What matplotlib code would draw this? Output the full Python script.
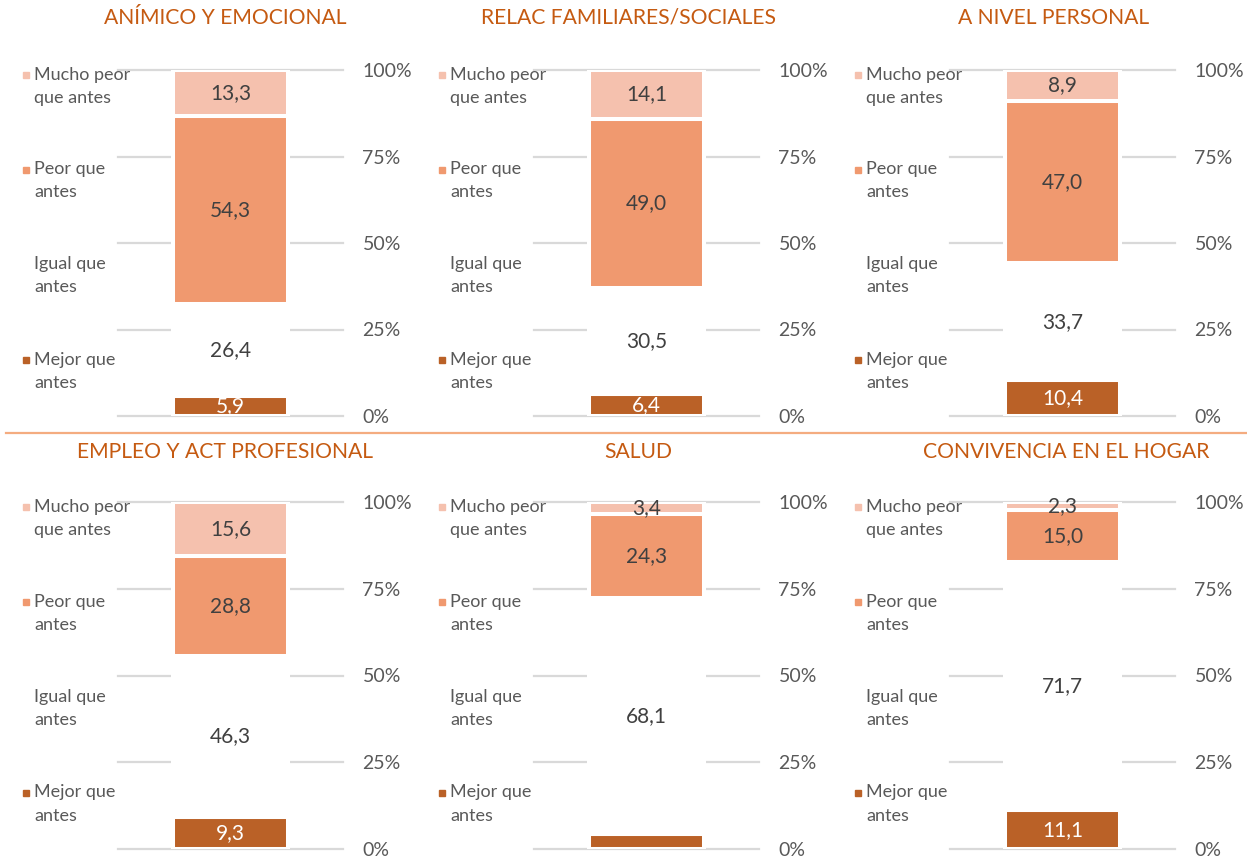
import matplotlib
matplotlib.use('Agg')
import matplotlib.pyplot as plt

#================================
# Datos
titles = ['ANÍMICO Y EMOCIONAL', 'RELAC FAMILIARES/SOCIALES', 'A NIVEL PERSONAL',
          'EMPLEO Y ACT PROFESIONAL', 'SALUD', 'CONVIVENCIA EN EL HOGAR']
categories = ['Mejor que\nantes', 'Igual que\nantes', 'Peor que\nantes', 'Mucho peor\nque antes']
mejor = [5.9, 6.4, 10.4, 9.3, 4.2, 11.1]
igual = [26.4, 30.5, 33.7, 46.3, 68.1, 71.7]
peor = [54.3, 49.0, 47.0, 28.8, 24.3, 15.0]
mucho_peor = [13.3, 14.1, 8.9, 15.6, 3.4, 2.3]
show_mejor_label = [True, True, True, True, False, True]
ticks = [0, 25, 50, 75, 100]
tick_labels = ['0%', '25%', '50%', '75%', '100%']

#================================
# Stijl
colors = ['#BA6127', '#FFFFFF', '#F0996F', '#F5C1AE']
label_colors = ['#FFFFFF', '#404040', '#404040', '#404040']
title_color = '#C55A11'
text_color = '#595959'
plt.rcParams['font.family'] = ['Lato', 'DejaVu Sans']

W, H = 1247, 858
fig = plt.figure(figsize=(W / 100, H / 100), dpi=100)

# pixel posities van de panelen
ax_left0, ax_w, col_step = 118, 225, 416
row_zero = [416, 849]
row_full = [70, 502]
title_y = [18, 452]
title_x = [[225, 628, 1054], [225, 638, 1066]]
legend_y = [101.0, 73.6, 46.2, 18.6]

for i, title in enumerate(titles):
    r, c = divmod(i, 3)
    left = ax_left0 + col_step * c
    bottom = row_zero[r]
    height = row_zero[r] - row_full[r]
    ax = fig.add_axes([left / W, 1 - bottom / H, ax_w / W, height / H])

    series = [mejor[i], igual[i], peor[i], mucho_peor[i]]
    base = 0
    for k, val in enumerate(series):
        ax.bar(0, val, bottom=base, width=0.507, color=colors[k],
               edgecolor='white', linewidth=2.9, zorder=2)
        if k > 0 or show_mejor_label[i]:
            ax.text(0, base + val / 2, f'{val:.1f}'.replace('.', ','),
                    ha='center', va='center', fontsize=15,
                    color=label_colors[k], zorder=3)
        base += val

    ax.set_xlim(-0.5, 0.5)
    ax.set_ylim(0, 100)
    ax.set_xticks([])
    ax.set_yticks(ticks)
    ax.set_yticklabels(tick_labels)
    ax.yaxis.tick_right()
    ax.tick_params(axis='y', length=0, pad=14, labelsize=14, labelcolor=text_color)
    for t in ticks:
        ax.axhline(t, color='#D9D9D9', linewidth=1.6, zorder=1, clip_on=False)
    for s in ax.spines.values():
        s.set_visible(False)

    # legenda links van de grafiek
    for k, cat in enumerate(reversed(categories)):
        ck = len(categories) - 1 - k
        ax.text(-0.373, legend_y[k], cat, transform=ax.get_yaxis_transform(),
                ha='left', va='top', fontsize=13, color=text_color,
                linespacing=1.55)
        ax.plot([-0.41], [legend_y[k] - 2.4], marker='s', markersize=5,
                color=colors[ck], transform=ax.get_yaxis_transform(),
                clip_on=False, linestyle='none')

    fig.text(title_x[r][c] / W, 1 - title_y[r] / H, title, ha='center', va='center',
             fontsize=15.2, color=title_color)

# scheidingslijn tussen de rijen
fig.add_artist(plt.Line2D([6 / W, 1], [1 - 433 / H, 1 - 433 / H],
                          color='#F4AC80', linewidth=1.6))

fig.savefig('out.png', dpi=100)
